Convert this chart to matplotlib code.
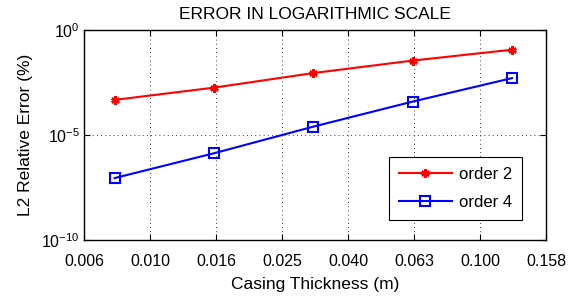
import matplotlib
matplotlib.use("Agg")
import matplotlib.pyplot as plt
from matplotlib.ticker import FixedLocator, FixedFormatter, NullLocator

plt.rcParams['font.family'] = ['Liberation Sans', 'DejaVu Sans']
plt.rcParams['mathtext.fontset'] = 'custom'
plt.rcParams['mathtext.rm'] = 'Liberation Sans'
plt.rcParams['mathtext.default'] = 'regular'

thickness = [1/128, 1/64, 1/32, 1/16, 1/8]
order2 = [4.7e-4, 1.8e-3, 8.9e-3, 3.5e-2, 1.15e-1]
order4 = [8.9e-8, 1.35e-6, 2.5e-5, 3.9e-4, 5.1e-3]
xticks = [10**(-2.2 + 0.2*i) for i in range(8)]
xticklabels = ['0.006', '0.010', '0.016', '0.025', '0.040', '0.063', '0.100', '0.158']
yticks = [1e-10, 1e-5, 1e0]
yticklabels = ['$10^{-10}$', '$10^{-5}$', '$10^{0}$']

fig = plt.figure(figsize=(5.82, 2.99), dpi=100)
ax = fig.add_axes([84/582, 1 - 240/299, (546-84)/582, (240-30)/299])

ax.plot(thickness, order2, color='red', lw=1.5, marker=(6, 2, 0), ms=6, mew=1.8, label='order 2')
ax.plot(thickness, order4, color='blue', lw=1.5, marker='s', ms=6.5, mfc='none', mew=1.5, label='order 4')

ax.set_xscale('log')
ax.set_yscale('log')
ax.set_xlim(xticks[0], xticks[-1])
ax.set_ylim(1e-10, 1e0)
ax.xaxis.set_major_locator(FixedLocator(xticks))
ax.xaxis.set_major_formatter(FixedFormatter(xticklabels))
ax.xaxis.set_minor_locator(NullLocator())
ax.yaxis.set_major_locator(FixedLocator(yticks))
ax.yaxis.set_major_formatter(FixedFormatter(yticklabels))
ax.yaxis.set_minor_locator(NullLocator())

ax.grid(True, which='major', color='black', linestyle=(0, (1, 4)), lw=0.6)
ax.tick_params(direction='in', top=True, right=True, labelsize=11.5, length=4, width=0.8)
ax.tick_params(axis='x', pad=10)
ax.tick_params(axis='y', pad=3)
for s in ax.spines.values():
    s.set_linewidth(1.0)

ax.set_title('ERROR IN LOGARITHMIC SCALE', fontsize=12.5, pad=8)
ax.set_xlabel('Casing Thickness (m)', fontsize=12.5, labelpad=6)
ax.set_ylabel('L2 Relative Error (%)', fontsize=12.5, labelpad=6)

leg = ax.legend(loc='lower right', bbox_to_anchor=(0.948, 0.095), borderaxespad=0, fontsize=12,
                fancybox=False, edgecolor='black', framealpha=1, handlelength=3.2,
                handletextpad=0.4, borderpad=0.6, labelspacing=0.8)
leg.get_frame().set_linewidth(0.8)

fig.savefig('out.png', dpi=100)
